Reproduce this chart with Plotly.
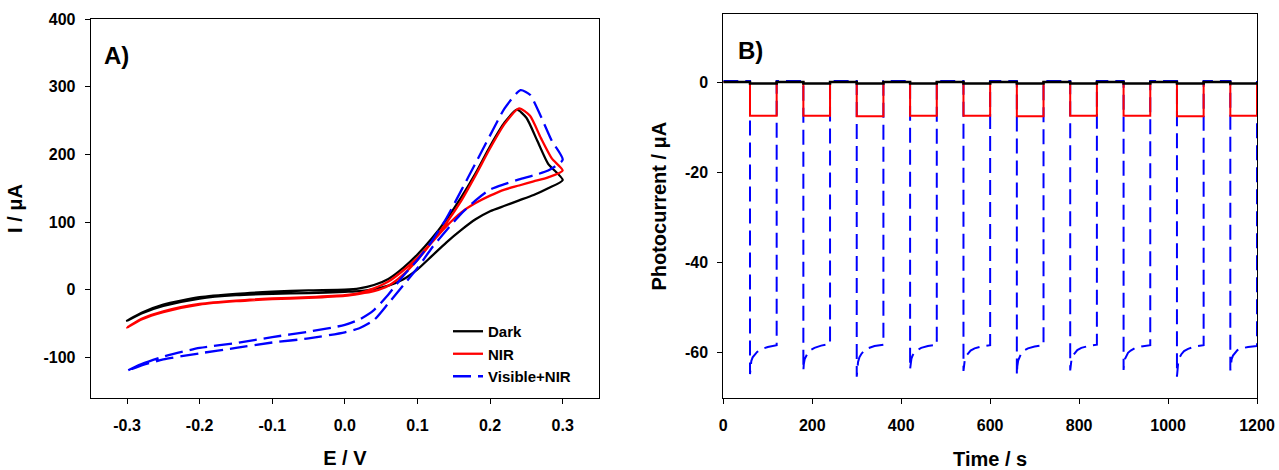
import plotly.graph_objects as go

# ---------------- Panel A: cyclic voltammograms ----------------
# branch containing the anodic peak (increasing potential)
dark_peak_E = [-0.3, -0.28, -0.25, -0.2, -0.15, -0.1, -0.05, 0.0, 0.02, 0.04, 0.06, 0.08, 0.1, 0.12, 0.14, 0.16, 0.18, 0.2, 0.22, 0.237, 0.25, 0.265, 0.28, 0.3]
dark_peak_I = [-46, -34, -22, -11, -6, -3, -1, 0, 2, 7, 16, 32, 52, 76, 104, 136, 172, 212, 247, 266, 254, 220, 186, 162]
dark_back_E = [0.3, 0.28, 0.26, 0.24, 0.22, 0.2, 0.18, 0.16, 0.14, 0.12, 0.1, 0.08, 0.06, 0.04, 0.02, 0.0, -0.05, -0.1, -0.15, -0.2, -0.25, -0.28, -0.3]
dark_back_I = [162, 150, 140, 132, 124, 116, 104, 88, 70, 50, 30, 15, 6, 1, -2, -3, -5, -6, -8, -13, -24, -35, -46]

nir_peak_E = [-0.3, -0.28, -0.25, -0.2, -0.15, -0.1, -0.05, 0.0, 0.02, 0.04, 0.06, 0.08, 0.1, 0.12, 0.14, 0.16, 0.18, 0.2, 0.22, 0.24, 0.255, 0.27, 0.285, 0.3]
nir_peak_I = [-56, -43, -32, -21, -16, -13, -11, -8, -5, 2, 12, 28, 47, 71, 99, 131, 169, 209, 245, 268, 257, 224, 194, 176]
nir_back_E = [0.3, 0.28, 0.26, 0.24, 0.22, 0.2, 0.18, 0.16, 0.14, 0.12, 0.1, 0.08, 0.06, 0.04, 0.02, 0.0, -0.05, -0.1, -0.15, -0.2, -0.25, -0.28, -0.3]
nir_back_I = [176, 166, 160, 154, 148, 139, 128, 114, 94, 70, 44, 22, 6, -2, -6, -9, -12, -14, -17, -22, -33, -44, -56]

vis_peak_E = [-0.3, -0.28, -0.25, -0.2, -0.15, -0.1, -0.05, 0.0, 0.02, 0.04, 0.06, 0.08, 0.1, 0.12, 0.14, 0.16, 0.18, 0.2, 0.22, 0.242, 0.255, 0.27, 0.285, 0.3]
vis_peak_I = [-120, -110, -99, -86, -79, -70, -62, -52, -44, -30, -7, 20, 44, 72, 106, 146, 187, 228, 268, 295, 288, 256, 220, 192]
vis_back_E = [0.3, 0.28, 0.26, 0.24, 0.22, 0.2, 0.18, 0.16, 0.14, 0.12, 0.1, 0.08, 0.06, 0.04, 0.02, 0.0, -0.05, -0.1, -0.15, -0.2, -0.25, -0.28, -0.3]
vis_back_I = [190, 176, 169, 163, 156, 148, 132, 112, 88, 62, 32, 6, -20, -45, -57, -63, -72, -78, -86, -94, -103, -112, -120]

a_x_ticks = [-0.3, -0.2, -0.1, 0.0, 0.1, 0.2, 0.3]
a_x_labels = ["-0.3", "-0.2", "-0.1", "0.0", "0.1", "0.2", "0.3"]
a_y_ticks = [-100, 0, 100, 200, 300, 400]
a_y_labels = ["-100", "0", "100", "200", "300", "400"]

# ---------------- Panel B: photocurrent transients ----------------
cycle_on_starts = [60, 180, 300, 420, 540, 660, 780, 900, 1020, 1140]
on_duration = 60
dark_off_level = 0.0
dark_on_level = [-0.35, -0.35, -0.35, -0.35, -0.35, -0.35, -0.35, -0.35, -0.35, -0.35]
nir_off_level = 0.0
nir_on_level = [-7.5, -7.5, -7.6, -7.5, -7.5, -7.6, -7.5, -7.5, -7.6, -7.5]
vis_off_level = 0.2
vis_on_offsets = [0, 1, 3, 6, 10, 16, 25, 40, 60]
vis_on_values = [
    [-64.7, -63.0, -61.8, -61.0, -60.4, -59.8, -59.2, -58.7, -58.3],
    [-63.9, -62.5, -61.4, -60.6, -60.0, -59.4, -58.9, -58.4, -58.0],
    [-65.3, -63.3, -62.0, -61.0, -60.3, -59.6, -59.0, -58.5, -58.2],
    [-63.6, -62.3, -61.3, -60.5, -59.9, -59.4, -58.9, -58.5, -58.2],
    [-64.0, -62.6, -61.5, -60.7, -60.1, -59.5, -59.0, -58.6, -58.3],
    [-64.9, -63.0, -61.7, -60.8, -60.1, -59.5, -59.0, -58.6, -58.3],
    [-63.9, -62.5, -61.4, -60.6, -60.0, -59.4, -58.9, -58.5, -58.2],
    [-63.8, -62.4, -61.4, -60.6, -60.0, -59.5, -59.0, -58.6, -58.3],
    [-65.3, -63.2, -61.9, -61.0, -60.3, -59.6, -59.1, -58.6, -58.3],
    [-63.9, -62.5, -61.4, -60.6, -60.0, -59.4, -59.0, -58.7, -58.5],
]
b_x_ticks = [0, 200, 400, 600, 800, 1000, 1200]
b_x_labels = ["0", "200", "400", "600", "800", "1000", "1200"]
b_y_ticks = [-60, -40, -20, 0]
b_y_labels = ["-60", "-40", "-20", "0"]


def square_series(starts, duration, off, on_levels):
    t, v = [0], [off]
    for s, lvl in zip(starts, on_levels):
        t += [s, s, s + duration, s + duration]
        v += [off, lvl, lvl, off]
    return t, v


def transient_series(starts, duration, off, offsets, rows):
    t, v = [0], [off]
    for s, row in zip(starts, rows):
        t.append(s)
        v.append(off)
        for o, val in zip(offsets, row):
            t.append(s + o)
            v.append(val)
        t.append(s + duration)
        v.append(off)
    return t, v


FONT = "Liberation Sans, Arial, sans-serif"
fig = go.Figure()

# Panel A traces
fig.add_trace(go.Scatter(x=dark_peak_E + dark_back_E[1:], y=dark_peak_I + dark_back_I[1:],
                         mode="lines", name="Dark", line=dict(color="black", width=2.3, shape="spline", smoothing=0.6),
                         xaxis="x", yaxis="y"))
fig.add_trace(go.Scatter(x=nir_peak_E + nir_back_E[1:], y=nir_peak_I + nir_back_I[1:],
                         mode="lines", name="NIR", line=dict(color="#ff0000", width=2.3, shape="spline", smoothing=0.6),
                         xaxis="x", yaxis="y"))
fig.add_trace(go.Scatter(x=vis_peak_E + vis_back_E[1:], y=vis_peak_I + vis_back_I[1:],
                         mode="lines", name="Visible+NIR",
                         line=dict(color="#0000ff", width=2.3, dash="18px,7px", shape="spline", smoothing=0.6),
                         xaxis="x", yaxis="y"))

# Panel B traces
bt, bv = transient_series(cycle_on_starts, on_duration, vis_off_level, vis_on_offsets, vis_on_values)
fig.add_trace(go.Scatter(x=bt, y=bv, mode="lines", showlegend=False,
                         line=dict(color="#0000ff", width=2, dash="15px,7px"), xaxis="x2", yaxis="y2"))
rt, rv = square_series(cycle_on_starts, on_duration, nir_off_level, nir_on_level)
fig.add_trace(go.Scatter(x=rt, y=rv, mode="lines", showlegend=False,
                         line=dict(color="#ff0000", width=2), xaxis="x2", yaxis="y2"))
kt, kv = square_series(cycle_on_starts, on_duration, dark_off_level, dark_on_level)
fig.add_trace(go.Scatter(x=kt, y=kv, mode="lines", showlegend=False,
                         line=dict(color="black", width=2.5), xaxis="x2", yaxis="y2"))

W, H = 1279, 470
axis_common = dict(showline=True, linecolor="black", linewidth=1, mirror=True,
                   ticks="outside", ticklen=5, tickwidth=1, tickcolor="black",
                   showgrid=False, zeroline=False, automargin=False,
                   tickfont=dict(family=FONT, size=16, color="black", weight="bold"))
title_font = dict(family=FONT, size=20, color="black", weight="bold")

fig.update_layout(
    width=W, height=H,
    margin=dict(l=0, r=0, t=0, b=0, pad=0, autoexpand=False),
    paper_bgcolor="white", plot_bgcolor="white",
    xaxis=dict(domain=[90.7 / W, 599 / W], range=[-0.35, 0.35], anchor="y",
               tickvals=a_x_ticks, ticktext=a_x_labels, ticklabelstandoff=8,
               title=dict(text="E / V", font=title_font, standoff=17), **axis_common),
    yaxis=dict(domain=[1 - 398 / H, 1 - 19 / H], range=[-160, 400], anchor="x",
               tickvals=a_y_ticks, ticktext=a_y_labels, ticklabelstandoff=6,
               title=dict(text="I / μA", font=title_font, standoff=15), **axis_common),
    xaxis2=dict(domain=[723.3 / W, 1257 / W], range=[0, 1200], anchor="y2",
                tickvals=b_x_ticks, ticktext=b_x_labels, ticklabelstandoff=8,
                title=dict(text="Time / s", font=title_font, standoff=18), **axis_common),
    yaxis2=dict(domain=[1 - 398 / H, 1 - 14.3 / H], range=[-70, 15], anchor="x2",
                tickvals=b_y_ticks, ticktext=b_y_labels, ticklabelstandoff=6,
                title=dict(text="Photocurrent / μA", font=title_font, standoff=12), **axis_common),
    showlegend=True,
    legend=dict(x=448 / W, y=1 - 315 / H, xanchor="left", yanchor="top",
                bgcolor="rgba(0,0,0,0)", borderwidth=0, tracegroupgap=0,
                font=dict(family=FONT, size=15, color="black", weight="bold")),
    annotations=[
        dict(text="A)", x=102 / W, y=1 - 56 / H, xref="paper", yref="paper", xanchor="left", yanchor="middle",
             showarrow=False, font=dict(family=FONT, size=24, color="black", weight="bold")),
        dict(text="B)", x=736 / W, y=1 - 51 / H, xref="paper", yref="paper", xanchor="left", yanchor="middle",
             showarrow=False, font=dict(family=FONT, size=24, color="black", weight="bold")),
    ],
)

fig.write_html("out.html", config={"displayModeBar": False},
               post_script="document.body.style.margin='0';document.body.style.overflow='hidden';")
